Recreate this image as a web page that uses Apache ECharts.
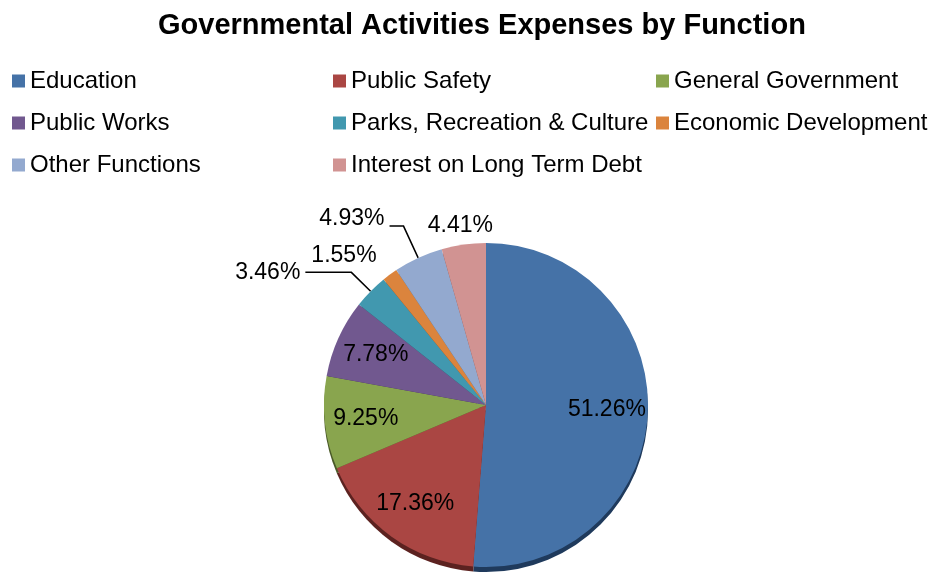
<!DOCTYPE html>
<html>
<head>
<meta charset="utf-8">
<script src="https://cdn.jsdelivr.net/npm/echarts@6/dist/echarts.min.js"></script>
<style>
html,body{margin:0;padding:0;background:#fff;}
#chart{width:929px;height:573px;}
</style>
</head>
<body>
<div id="chart"></div>
<script>
const titleText = 'Governmental Activities Expenses by Function';
const categories = ['Education', 'Public Safety', 'General Government', 'Public Works',
  'Parks, Recreation & Culture', 'Economic Development', 'Other Functions', 'Interest on Long Term Debt'];
const values = [51.26, 17.36, 9.25, 7.78, 3.46, 1.55, 4.93, 4.41];
const colors = ['#4572A7', '#AA4643', '#89A54E', '#71588F', '#4198AF', '#DB843D', '#93A9CF', '#D19392'];
const rimColors = ['#1F3A5C', '#5C2220', '#4A5A28', '#3C2E4E', '#22525E', '#7A4720', '#50607A', '#765050'];

const legendCols = [
  [categories[0], categories[3], categories[6]],
  [categories[1], categories[4], categories[7]],
  [categories[2], categories[5]]
];

// which slices get inside labels; outside label line settings for the others
const insideIdx = [0, 1, 2, 3];
const outsideLine = {
  4: { length: 27, length2: 46, show: true, raise: false },
  5: { length: 24, length2: -6, show: false, raise: false },
  6: { length: 35, length2: 14, show: true, raise: true },
  7: { length: 19, length2: -37, show: false, raise: false }
};

const FONT = '"Liberation Sans", Arial, sans-serif';
const center = [486, 405];
const rimCenter = [486, 410];
const R = 162;

const mainData = categories.map((name, i) => {
  const d = { name: name, value: values[i], itemStyle: { color: colors[i] } };
  if (outsideLine[i]) {
    d.label = { show: true, position: 'outside' };
    if (outsideLine[i].raise) {
      d.label.formatter = '{c}%\n';
      d.label.lineHeight = 14;
    }
    d.labelLine = { show: outsideLine[i].show, length: outsideLine[i].length, length2: outsideLine[i].length2 };
  } else {
    d.label = { show: false };
    d.labelLine = { show: false };
  }
  return d;
});

const rimData = categories.map((name, i) => ({
  name: name, value: values[i], itemStyle: { color: rimColors[i] }, label: { show: false }
}));

const overlayData = categories.map((name, i) => ({
  name: name, value: values[i],
  itemStyle: { color: 'rgba(0,0,0,0)' },
  label: { show: insideIdx.indexOf(i) >= 0 }
}));

const chart = echarts.init(document.getElementById('chart'));
chart.setOption({
  animation: false,
  title: {
    text: titleText,
    left: 158, top: 11, padding: 0,
    textStyle: { fontFamily: FONT, fontSize: 29, fontWeight: 'bold', color: '#000' }
  },
  legend: legendCols.map((col, k) => ({
    data: col,
    orient: 'vertical',
    left: [12, 333, 656][k],
    top: 69,
    padding: 0,
    itemWidth: 13, itemHeight: 13, itemGap: 18,
    icon: 'rect',
    selectedMode: false,
    textStyle: { fontFamily: FONT, fontSize: 24, color: '#000', lineHeight: 24 }
  })),
  series: [
    {
      type: 'pie',
      center: center,
      radius: [0, R],
      startAngle: 90,
      clockwise: true,
      avoidLabelOverlap: false,
      labelLayout: { hideOverlap: false, moveOverlap: null },
      silent: true,
      z: 2,
      data: mainData,
      label: {
        fontFamily: FONT, fontSize: 23, color: '#000',
        formatter: p => p.value.toFixed(2) + '%',
        distanceToLabelLine: 5
      },
      labelLine: { lineStyle: { color: '#000', width: 1.5 }, smooth: false },
      emphasis: { disabled: true }
    },
    {
      type: 'pie',
      center: rimCenter,
      radius: [0, R],
      startAngle: 90,
      clockwise: true,
      silent: true,
      z: 1,
      data: rimData,
      label: { show: false },
      labelLine: { show: false },
      emphasis: { disabled: true }
    },
    {
      type: 'pie',
      center: center,
      radius: [0, 236],
      startAngle: 90,
      clockwise: true,
      avoidLabelOverlap: false,
      silent: true,
      z: 3,
      data: overlayData,
      label: {
        position: 'inside',
        fontFamily: FONT, fontSize: 23, color: '#000',
        formatter: p => p.value.toFixed(2) + '%'
      },
      labelLine: { show: false },
      emphasis: { disabled: true }
    }
  ]
});
</script>
</body>
</html>
